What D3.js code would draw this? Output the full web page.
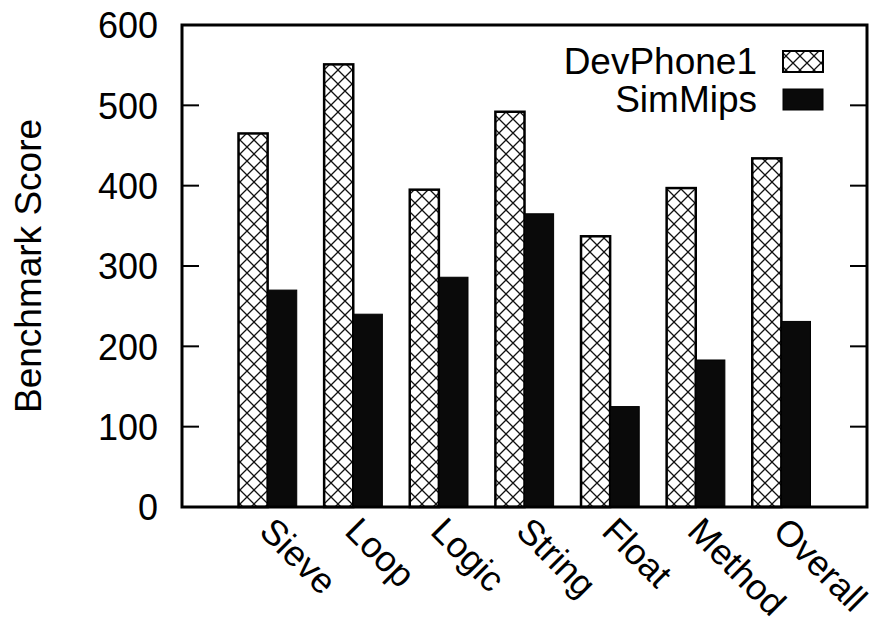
<!DOCTYPE html>
<html>
<head>
<meta charset="utf-8">
<script src="https://cdn.jsdelivr.net/npm/d3@7"></script>
<style>
  html, body { margin: 0; padding: 0; background: #fff; }
  svg text { font-family: "Liberation Sans", Arial, Helvetica, sans-serif; fill: #000; }
</style>
</head>
<body>
<svg id="chart" width="877" height="626"></svg>
<script>
// Benchmark categories and scores per platform
const categories = ["Sieve", "Loop", "Logic", "String", "Float", "Method", "Overall"];
const devPhone1 = [465, 551, 395, 492, 337, 397, 434];
const simMips   = [270, 240, 286, 365, 125, 183, 231];
const seriesNames = ["DevPhone1", "SimMips"];
const yTicks = [0, 100, 200, 300, 400, 500, 600];

const svg = d3.select("#chart");
const margin = { left: 182, right: 10, top: 25, bottom: 119 };
const W = 877, H = 626;
const x0 = margin.left, x1 = W - margin.right;
const y0 = H - margin.bottom, y1 = margin.top;
const FS = "37px";

// Category positions 1..7 on a 0..8 domain
const x = d3.scaleLinear().domain([0, categories.length + 1]).range([x0, x1]);
const y = d3.scaleLinear().domain([0, 600]).range([y0, y1]);
const barW = (x(1) - x(0)) * 0.34;

// Cross-hatch fill
const defs = svg.append("defs");
const pat = defs.append("pattern")
  .attr("id", "xhatch").attr("patternUnits", "userSpaceOnUse")
  .attr("width", 14).attr("height", 14).attr("x", 2).attr("y", 0);
pat.append("rect").attr("width", 14).attr("height", 14).attr("fill", "#fff");
pat.append("path").attr("d", "M0,0L14,14M14,0L0,14M-7,7L0,0M7,-7L0,0")
  .attr("stroke", "#111").attr("stroke-width", 1.3).attr("fill", "none");

const data = categories.map((c, i) => ({ c, i, vals: [devPhone1[i], simMips[i]] }));

const g = svg.append("g");
data.forEach(d => {
  const cx = x(d.i + 1);
  // DevPhone1 (hatched, left)
  g.append("rect")
    .attr("x", cx - barW).attr("width", barW)
    .attr("y", y(d.vals[0])).attr("height", y(0) - y(d.vals[0]))
    .attr("fill", "url(#xhatch)").attr("stroke", "#000").attr("stroke-width", 2.5);
  // SimMips (solid, right)
  g.append("rect")
    .attr("x", cx).attr("width", barW)
    .attr("y", y(d.vals[1])).attr("height", y(0) - y(d.vals[1]))
    .attr("fill", "#0a0a0a").attr("stroke", "#000").attr("stroke-width", 1);
});

// Tick marks on left (inward) and right (inward)
yTicks.forEach(t => {
  if (t === 0 || t === 600) return;
  svg.append("line").attr("x1", x0).attr("x2", x0 + 17).attr("y1", y(t)).attr("y2", y(t))
    .attr("stroke", "#000").attr("stroke-width", 2);
  svg.append("line").attr("x1", x1).attr("x2", x1 - 17).attr("y1", y(t)).attr("y2", y(t))
    .attr("stroke", "#000").attr("stroke-width", 2);
});

// Left axis labels via d3 axis
const yAxis = d3.axisLeft(y).tickValues(yTicks).tickSize(0).tickPadding(24);
const ya = svg.append("g").attr("transform", `translate(${x0},0)`).call(yAxis);
ya.select(".domain").remove();
ya.selectAll("text").style("font-size", "36px").attr("dy", "0.36em")
  .style("font-family", "'Liberation Sans', Arial, sans-serif");

// Plot frame
svg.append("rect").attr("x", x0).attr("y", y1).attr("width", x1 - x0).attr("height", y0 - y1)
  .attr("fill", "none").attr("stroke", "#000").attr("stroke-width", 3);

// Rotated category labels
data.forEach(d => {
  svg.append("text")
    .attr("transform", `translate(${x(d.i + 1) - 10},${y0 + 26}) rotate(45)`)
    .attr("text-anchor", "start")
    .style("font-size", "36px")
    .text(d.c);
});

// Y axis title
svg.append("text")
  .attr("transform", `translate(41,${(y0 + y1) / 2}) rotate(-90)`)
  .attr("text-anchor", "middle")
  .style("font-size", FS)
  .text("Benchmark Score");

// Legend
const legY = [61, 99];
seriesNames.forEach((name, i) => {
  svg.append("text").attr("x", 757).attr("y", legY[i]).attr("dy", "0.36em")
    .attr("text-anchor", "end").style("font-size", FS).text(name);
  svg.append("rect").attr("x", 783).attr("y", legY[i] - 10).attr("width", 40).attr("height", 21)
    .attr("fill", i === 0 ? "url(#xhatch)" : "#0a0a0a")
    .attr("stroke", "#000").attr("stroke-width", i === 0 ? 2 : 1);
});
</script>
</body>
</html>
